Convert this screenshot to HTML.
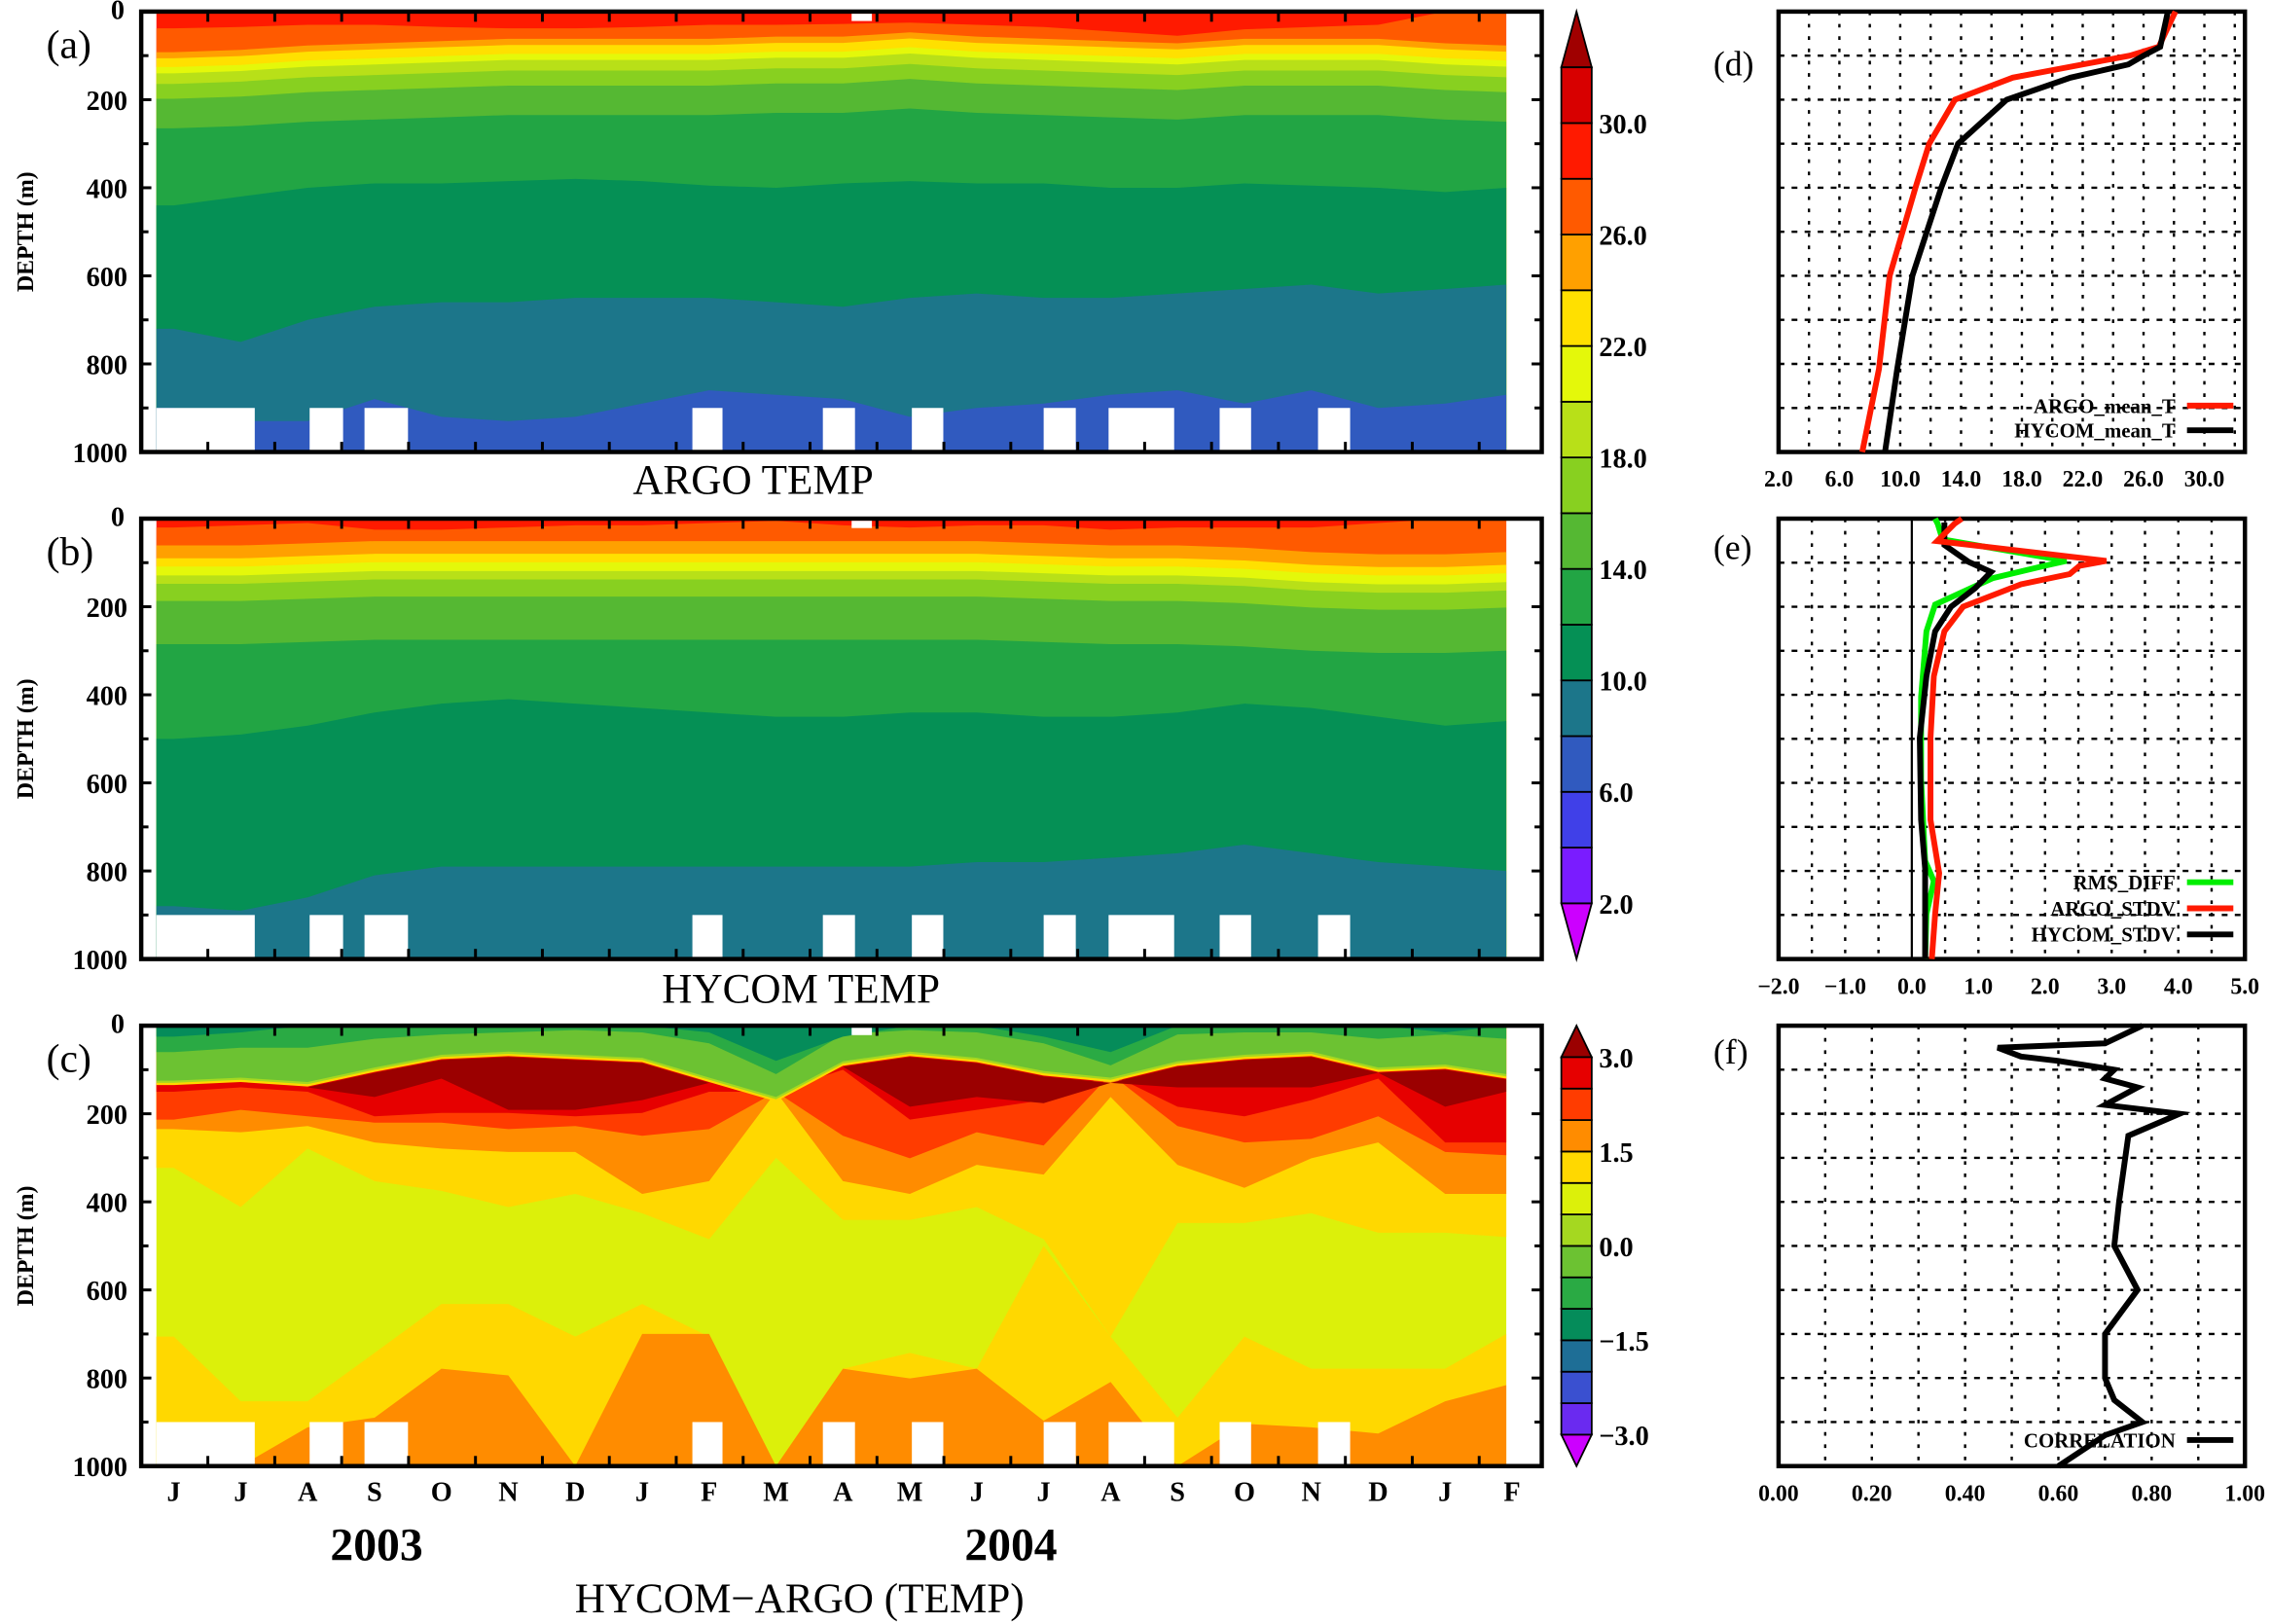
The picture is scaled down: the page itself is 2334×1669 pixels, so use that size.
<!DOCTYPE html>
<html><head><meta charset="utf-8"><style>
html,body{margin:0;padding:0;background:#fff;}
svg{display:block;}
text{font-family:"Liberation Serif",serif;}
.tk{font-weight:bold;font-size:19px;}
.rt{font-weight:bold;font-size:16px;}
</style></head><body>
<svg id="fig" xmlns="http://www.w3.org/2000/svg" width="2334" height="1669" viewBox="0 0 1568 1121" preserveAspectRatio="none">
<g id="contours"></g>
<g id="overlay"></g>
</svg>
<script>
// ---------- data ----------
const months = ["J","J","A","S","O","N","D","J","F","M","A","M","J","J","A","S","O","N","D","J","F"];
const depthTicks = [0,200,400,600,800,1000];
const tThresh = [28,26,24,22,20,18,16,14,12,10,8];
const tBarColors = ["#7a1cff","#4040e8","#305abf","#1c768a","#059055","#22a544","#55b833","#88d020","#b8e018","#e4f80a","#ffe000","#ffa000","#ff5a00","#ff1a00","#d80000"]; // 2..32 step 2
const tBarLabels = ["2.0","6.0","10.0","14.0","18.0","22.0","26.0","30.0"];
// Panel (a) ARGO isotherm depths (m) per month
const isoA28 = [38,35,30,30,35,38,38,35,30,30,28,25,30,35,45,55,40,35,30,0,0];
const isoAShallowBase = [62,76,96,110,134,168,235];  // 26..14
const isoAShift = [30,25,15,10,5,0,0,0,0,-5,-5,-15,-5,0,5,10,0,0,0,10,15];
const isoA12 = [440,420,400,390,390,385,380,385,395,400,390,385,390,390,400,400,390,395,400,410,400];
const isoA10 = [720,750,700,670,660,660,650,650,650,660,670,650,640,650,650,640,630,620,640,630,620];
const isoA8  = [900,930,930,880,920,930,920,890,860,870,880,920,900,890,870,860,890,860,900,890,870];
// Panel (b) HYCOM isotherm depths (m)
const isoB28 = [20,15,10,25,25,20,15,15,10,5,15,20,15,15,25,20,20,20,10,0,0];
const isoBShallowBase = [61,90,109,129,148,187,285]; // 26..14
const isoBShift = [0,0,-5,-10,-10,-10,-10,-10,-10,-10,-10,-10,-10,-5,0,0,5,15,20,20,15];
const isoB12 = [500,490,470,440,420,410,420,430,440,450,450,440,440,450,450,440,420,430,450,470,460];
const isoB10 = [880,890,860,810,790,790,790,790,790,790,790,790,780,780,770,760,740,760,780,790,800];
// data gaps (month-index ranges, depth 900-1000)
const gapStart = [-0.26,2.03,2.85,7.75,9.7,11.03,13.0,13.97,15.63,17.1];
const gapEnd   = [1.21,2.53,3.5,8.2,10.18,11.5,13.48,14.95,16.1,17.58];
// Panel (c) difference structure (m)
const cGreenBot   = [125,118,128,95,66,59,66,73,118,162,81,59,73,103,118,81,66,59,95,88,110];
const cDkGreenBot = [60,50,50,30,20,15,10,15,40,110,20,10,15,40,90,20,15,15,30,20,30];
const cDeepGrnBot = [25,15,0,0,0,0,0,0,15,80,25,0,0,25,60,0,0,0,0,15,0];
const cOrRedBot   = [213,191,206,220,220,235,228,250,235,150,250,301,242,272,110,228,265,257,206,287,294];
const cRedBot     = [150,140,150,206,198,198,206,198,150,150,100,213,191,169,110,184,206,169,120,265,265];
const cDkRedBot   = [0,0,0,162,120,191,191,169,0,0,0,184,162,176,0,140,140,140,0,184,150];
const cOrangeBot  = [235,242,228,265,279,287,287,382,353,150,353,382,316,338,162,316,368,301,265,382,382];
const cYellowBot  = [323,412,279,353,375,412,382,426,485,300,441,441,412,485,706,448,448,426,470,470,480];
const cYellowDeep = [706,853,853,743,632,632,706,632,706,1000,779,743,779,500,706,890,706,779,779,779,700];
const cOrangeDeep = [1000,1000,912,890,779,794,1000,700,700,1000,779,801,779,897,809,1000,904,912,926,853,816];
const dBarColors = ["#6a2af0","#3a50d0","#1e6e96","#058c5a","#2aaa44","#6cc232","#a5d820","#dcf00a","#ffd800","#ff8c00","#ff3c00","#e60000"]; // -3..3 step .5
const dBarLabels = ["\u22123.0","\u22121.5","0.0","1.5","3.0"];
// Panel (d) mean profiles
const dDepth = [0,80,100,120,150,200,300,400,600,812,1000];
const argoMean  = [28.1,27.0,25.1,22.0,17.4,13.6,11.9,11.0,9.3,8.6,7.5];
const hycomMean = [27.6,27.1,26.0,25.0,21.2,17.0,13.8,12.7,10.8,9.8,9.0];
const dXLabels = ["2.0","6.0","10.0","14.0","18.0","22.0","26.0","30.0"];
// Panel (e)
const eDepthG = [0,12,47,96,107,135,195,256,405,591,777,823,898,1000];
const rmsDiff = [0.35,0.39,0.46,2.32,2.0,1.22,0.35,0.22,0.14,0.14,0.2,0.33,0.22,0.2];
const eDepthR = [0,12,51,96,107,126,149,200,256,358,498,684,805,898,1000];
const argoStd = [0.75,0.64,0.38,2.92,2.52,2.37,1.64,0.77,0.49,0.33,0.28,0.28,0.41,0.35,0.3];
const eDepthK = [9,60,98,121,158,200,256,358,498,684,795,1000];
const hycomStd = [0.49,0.49,0.85,1.19,0.95,0.59,0.35,0.22,0.12,0.14,0.2,0.2];
const eXLabels = ["\u22122.0","\u22121.0","0.0","1.0","2.0","3.0","4.0","5.0"];
// Panel (f)
const fDepth = [0,40,50,70,80,100,120,140,180,200,250,400,500,600,700,800,850,900,930,1000];
const corr   = [0.78,0.70,0.47,0.52,0.60,0.72,0.70,0.77,0.70,0.86,0.75,0.73,0.72,0.77,0.70,0.70,0.72,0.78,0.70,0.60];
const fXLabels = ["0.00","0.20","0.40","0.60","0.80","1.00"];

// ---------- helpers ----------
const NS="http://www.w3.org/2000/svg";
const C=document.getElementById('contours'), O=document.getElementById('overlay');
function el(tag,attrs,parent){const e=document.createElementNS(NS,tag);for(const k in attrs)e.setAttribute(k,attrs[k]);(parent||O).appendChild(e);return e;}
function txt(s,x,y,attrs,parent){const e=el('text',Object.assign({x:x,y:y},attrs||{}),parent);e.textContent=s;return e;}
const PX0=108, PX1=1040;
const xMonth=i=>Math.max(PX0,Math.min(PX1,120+46.2*i));
function yD(top){return d=>top+Math.min(1000,Math.max(0,d))*0.304;}
function band(yf,topArr,botArr,color,name){
  const n=topArr.length;let pts=[];
  pts.push([PX0,yf(topArr[0])]);
  for(let i=0;i<n;i++)pts.push([xMonth(i),yf(topArr[i])]);
  pts.push([PX1,yf(topArr[n-1])]);
  pts.push([PX1,yf(botArr[n-1])]);
  for(let i=n-1;i>=0;i--)pts.push([xMonth(i),yf(botArr[i])]);
  pts.push([PX0,yf(botArr[0])]);
  const p=el('polygon',{points:pts.map(q=>q[0].toFixed(1)+','+q[1].toFixed(1)).join(' '),fill:color},C);
  
  
  return p;
}
const zeros=new Array(21).fill(0), full=new Array(21).fill(1000);

function tempPanel(top,iso28,sBase,shift,iso12,iso10,iso8,prefix){
  const yf=yD(top);
  const bg=el('rect',{x:PX0,y:top,width:PX1-PX0,height:304,fill:"#ff1a00"},C);
  
  
  const isos=[iso28];
  sBase.forEach(b=>isos.push(shift.map(s=>b+s)));
  isos.push(iso12,iso10,iso8);
  isos.forEach((arr,k)=>{
    const T=tThresh[k];const col=tBarColors[(T-2)/2-1];
    band(yf,arr,full,col,prefix+'-isotherm-'+T);
  });
}
function gaps(top,prefix){
  for(let g=0;g<gapStart.length;g++){
    const x0=Math.max(PX0,120+46.2*gapStart[g]),x1=120+46.2*gapEnd[g];
    const r=el('rect',{x:x0,y:top+900*0.304,width:x1-x0,height:100*0.304+1,fill:"#fff"},C);
    
    
  }
}
tempPanel(8,isoA28,isoAShallowBase,isoAShift,isoA12,isoA10,isoA8,'argo');
gaps(8,'argo');
tempPanel(358,isoB28,isoBShallowBase,isoBShift,isoB12,isoB10,full,'hycom');
gaps(358,'hycom');

(function(){
  const top=708,yf=yD(top);
  const bg=el('rect',{x:PX0,y:top,width:PX1-PX0,height:304,fill:"#dcf00a"},C);
  
  
  band(yf,zeros,cYellowBot,"#ffd800",'diff-yellow-upper');
  band(yf,zeros,cOrangeBot,"#ff8c00",'diff-orange-upper');
  band(yf,zeros,cOrRedBot,"#ff3c00",'diff-orangered');
  band(yf,zeros,cRedBot,"#e60000",'diff-red');
  band(yf,cGreenBot.map(v=>v+12),cDkRedBot.map((v,i)=>Math.max(v,cGreenBot[i]+12)),"#9b0000",'diff-darkred-core');
  band(yf,cYellowDeep,full,"#ffd800",'diff-yellow-deep');
  band(yf,cOrangeDeep,full,"#ff8c00",'diff-orange-deep');
  band(yf,zeros,cGreenBot.map(v=>v+10),"#ffd800",'diff-edge-yellow');
  band(yf,zeros,cGreenBot.map(v=>v+5),"#a5d820",'diff-edge-lime');
  band(yf,zeros,cGreenBot,"#6cc232",'diff-green');
  band(yf,zeros,cDkGreenBot,"#2aaa44",'diff-darkgreen');
  band(yf,zeros,cDeepGrnBot,"#058c5a",'diff-deepgreen');
  gaps(top,'diff');
})();

// ---------- frames & axes ----------
const monthTickX=[];for(let k=0;k<20;k++)monthTickX.push(143.5+46.2*k);
function contourFrame(top,name){
  const f=el('rect',{x:97.5,y:top,width:967,height:304,fill:"none",stroke:"#000","stroke-width":3});
  
  
  el('rect',{x:588,y:top+1.5,width:14,height:5,fill:"#fff"});
  for(let d=0;d<=1000;d+=100){
    const y=top+d*0.304, L=(d%200===0)?7:5;
    el('line',{x1:97.5,y1:y,x2:97.5+L,y2:y,stroke:"#000","stroke-width":2});
    el('line',{x1:1064.5,y1:y,x2:1064.5-L,y2:y,stroke:"#000","stroke-width":2});
  }
  monthTickX.forEach(x=>{
    el('line',{x1:x,y1:top,x2:x,y2:top+7,stroke:"#000","stroke-width":2});
    el('line',{x1:x,y1:top+304,x2:x,y2:top+297,stroke:"#000","stroke-width":2});
  });
  depthTicks.forEach(d=>{
    const y=top+d*0.304;
    let t;
    if(d===0){t=txt("0",86,y+5,{"text-anchor":"end",class:"tk","font-size":"16"});}
    else{t=txt(String(d),88,y+7,{"text-anchor":"end",class:"tk"});}
    
    
  });
  const yl=txt("DEPTH (m)",0,0,{transform:"translate(23,"+(top+152)+") rotate(-90)","text-anchor":"middle","font-size":"16","font-weight":"bold"});
  
  
}
contourFrame(8,'argo-panel');contourFrame(358,'hycom-panel');contourFrame(708,'diff-panel');
[["(a)",30],["(b)",380],["(c)",730]].forEach(p=>{const t=txt(p[0],32,p[1]+10,{"font-size":"28","text-anchor":"start"});});
months.forEach((m,i)=>{const t=txt(m,120+46.2*i,1036,{"text-anchor":"middle",class:"tk","font-size":"20"});});
[["2003",260],["2004",698]].forEach(p=>{const t=txt(p[0],p[1],1077,{"text-anchor":"middle","font-size":"32","font-weight":"bold"});});
let tt=txt("ARGO TEMP",520,341,{"text-anchor":"middle","font-size":"29"});
tt=txt("HYCOM TEMP",553,692,{"text-anchor":"middle","font-size":"29"});
tt=txt("HYCOM\u2212ARGO (TEMP)",552,1113,{"text-anchor":"middle","font-size":"29"});

// ---------- colorbars ----------
function colorbar(yTop,yBot,colors,tipLow,tipHigh,labels,step,name){
  const n=colors.length, x0=1078, w=21, h=(yBot-yTop)/(n+2);
  const bt=yTop+h, bb=yBot-h;
  const g=el('g',{});
  el('polygon',{points:`${x0},${bt} ${x0+w/2},${yTop} ${x0+w},${bt}`,fill:tipHigh,stroke:"#000","stroke-width":1.2},g);
  el('polygon',{points:`${x0},${bb} ${x0+w/2},${yBot} ${x0+w},${bb}`,fill:tipLow,stroke:"#000","stroke-width":1.2},g);
  colors.forEach((c,i)=>{el('rect',{x:x0,y:bb-(i+1)*h,width:w,height:h,fill:c,stroke:"#000","stroke-width":1.2},g);});
  labels.forEach((l,k)=>{
    const y=bb-k*step*h;
    const t=txt(l,x0+w+5,y+7,{class:"tk","font-size":"20"},g);
    
    
  });
}
colorbar(8,662,tBarColors,"#cc00ff","#a00000",tBarLabels,2,'temperature-colorbar');
colorbar(708,1012,dBarColors,"#cc00ff","#9b0000",dBarLabels,3,'difference-colorbar');

// ---------- profile panels ----------
const RX0=1228,RX1=1550;
function profileFrame(top,xf,gridVals,labels,labelVals,name){
  const g=el('g',{});
  const yb=top+304;
  gridVals.forEach(v=>{const x=xf(v);if(x>RX0+2&&x<RX1-2)el('line',{x1:x,y1:top,x2:x,y2:yb,stroke:"#000","stroke-width":1.6,"stroke-dasharray":"2.5,6"},g);});
  for(let d=100;d<1000;d+=100){const y=top+d*0.304;el('line',{x1:RX0,y1:y,x2:RX1,y2:y,stroke:"#000","stroke-width":1.6,"stroke-dasharray":"4,5"},g);}
  el('rect',{x:RX0,y:top,width:RX1-RX0,height:304,fill:"none",stroke:"#000","stroke-width":3},g);
  labels.forEach((l,k)=>{const t=txt(l,xf(labelVals[k]),yb+24,{"text-anchor":"middle",class:"rt","font-size":"17"},g);});
  return g;
}
function line(g,xf,top,vals,depths,color,name){
  const pts=vals.map((v,i)=>xf(v).toFixed(1)+','+(top+depths[i]*0.304).toFixed(1)).join(' ');
  const p=el('polyline',{points:pts,fill:"none",stroke:color,"stroke-width":4,"stroke-linejoin":"miter"},g);
  
  
}
function legend(g,label,y,color){
  el('line',{x1:1510,y1:y,x2:1542,y2:y,stroke:color,"stroke-width":4},g);
  const t=txt(label,1502,y+5,{"text-anchor":"end","font-size":"14","font-weight":"bold"},g);
  
  
}
const xd=v=>RX0+(v-2)*10.5;
let gd=profileFrame(8,xd,[4,6,8,10,12,14,16,18,20,22,24,26,28,30,32],dXLabels,[2,6,10,14,18,22,26,30],'mean-profile-panel');
line(gd,xd,8,argoMean,dDepth,"#ff1a00",'argo-mean-line');
line(gd,xd,8,hycomMean,dDepth,"#000",'hycom-mean-line');
legend(gd,"ARGO_mean_T",280,"#ff1a00");legend(gd,"HYCOM_mean_T",297,"#000");
const xe=v=>RX0+(v+2)*46;
let ge=profileFrame(358,xe,[-1.5,-1,-0.5,0.5,1,1.5,2,2.5,3,3.5,4,4.5],eXLabels,[-2,-1,0,1,2,3,4,5],'std-profile-panel');
el('line',{x1:xe(0),y1:358,x2:xe(0),y2:662,stroke:"#000","stroke-width":1.5},ge);
line(ge,xe,358,rmsDiff,eDepthG,"#00ee00",'rms-diff-line');
line(ge,xe,358,hycomStd,eDepthK,"#000",'hycom-std-line');
line(ge,xe,358,argoStd,eDepthR,"#ff1a00",'argo-std-line');
legend(ge,"RMS_DIFF",609,"#00ee00");legend(ge,"ARGO_STDV",627,"#ff1a00");legend(ge,"HYCOM_STDV",645,"#000");
const xf=v=>RX0+v*322;
let gf=profileFrame(708,xf,[0.1,0.2,0.3,0.4,0.5,0.6,0.7,0.8,0.9],fXLabels,[0,0.2,0.4,0.6,0.8,1.0],'correlation-panel');
line(gf,xf,708,corr,fDepth,"#000",'correlation-line');
legend(gf,"CORRELATION",994,"#000");
[["(d)",44],["(e)",378],["(f)",726]].forEach(p=>{const t=txt(p[0],1183,p[1]+8,{"font-size":"24"});});
</script>
</body></html>
